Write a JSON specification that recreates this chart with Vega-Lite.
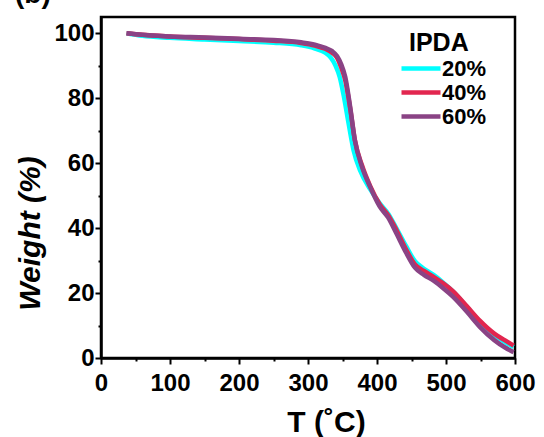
{
  "$schema": "https://vega.github.io/schema/vega-lite/v6.json",
  "autosize": {"type": "none"},
  "padding": {"left": 101, "top": 17, "right": 29, "bottom": 79},
  "width": 414,
  "height": 341,
  "title": {"text": "(b)", "anchor": "start", "frame": "group", "orient": "top", "dx": -86, "dy": 14, "offset": 0, "baseline": "alphabetic", "fontSize": 28, "fontWeight": "bold", "font": "Liberation Sans", "color": "black"},
  "config": {
    "view": {"stroke": "black", "strokeWidth": 2.5},
    "font": "Liberation Sans",
    "axis": {"grid": false, "domainColor": "black", "domainWidth": 2.5, "tickColor": "black", "tickWidth": 2, "labelColor": "black", "labelFont": "Liberation Sans", "labelFontWeight": "bold", "labelFontSize": 24, "titleFont": "Liberation Sans", "titleFontWeight": "bold", "titleFontSize": 30, "titleColor": "black"}
  },
  "data": {"values": [
    {"T": 37, "W": 100, "s": "20%"}, {"T": 60, "W": 99.2, "s": "20%"}, {"T": 100, "W": 98.6, "s": "20%"}, {"T": 150, "W": 98.1, "s": "20%"}, {"T": 200, "W": 97.6, "s": "20%"}, {"T": 250, "W": 97.1, "s": "20%"}, {"T": 290, "W": 96.3, "s": "20%"}, {"T": 310, "W": 95.3, "s": "20%"}, {"T": 325, "W": 94.0, "s": "20%"}, {"T": 333, "W": 92.5, "s": "20%"}, {"T": 340, "W": 90.0, "s": "20%"}, {"T": 346, "W": 86.5, "s": "20%"}, {"T": 352, "W": 80.5, "s": "20%"}, {"T": 359, "W": 72, "s": "20%"}, {"T": 366, "W": 64, "s": "20%"}, {"T": 376, "W": 57.5, "s": "20%"}, {"T": 390, "W": 52, "s": "20%"}, {"T": 404, "W": 47.6, "s": "20%"}, {"T": 416, "W": 44.5, "s": "20%"}, {"T": 428, "W": 40.0, "s": "20%"}, {"T": 442, "W": 34.5, "s": "20%"}, {"T": 455, "W": 29.8, "s": "20%"}, {"T": 468, "W": 27.5, "s": "20%"}, {"T": 482, "W": 25.6, "s": "20%"}, {"T": 496, "W": 23.2, "s": "20%"}, {"T": 510, "W": 20.5, "s": "20%"}, {"T": 530, "W": 15.8, "s": "20%"}, {"T": 549, "W": 11.2, "s": "20%"}, {"T": 570, "W": 7.2, "s": "20%"}, {"T": 585, "W": 5.0, "s": "20%"}, {"T": 598, "W": 3.4, "s": "20%"},
    {"T": 37, "W": 100, "s": "40%"}, {"T": 60, "W": 99.5, "s": "40%"}, {"T": 100, "W": 99.0, "s": "40%"}, {"T": 150, "W": 98.6, "s": "40%"}, {"T": 200, "W": 98.2, "s": "40%"}, {"T": 250, "W": 97.7, "s": "40%"}, {"T": 290, "W": 97.0, "s": "40%"}, {"T": 310, "W": 96.2, "s": "40%"}, {"T": 325, "W": 95.2, "s": "40%"}, {"T": 335, "W": 94.0, "s": "40%"}, {"T": 342, "W": 92.5, "s": "40%"}, {"T": 348, "W": 89.5, "s": "40%"}, {"T": 354, "W": 85.5, "s": "40%"}, {"T": 361, "W": 77, "s": "40%"}, {"T": 368, "W": 67, "s": "40%"}, {"T": 378, "W": 59.5, "s": "40%"}, {"T": 390, "W": 53, "s": "40%"}, {"T": 404, "W": 47.3, "s": "40%"}, {"T": 416, "W": 44, "s": "40%"}, {"T": 428, "W": 39.5, "s": "40%"}, {"T": 442, "W": 33.5, "s": "40%"}, {"T": 455, "W": 28.8, "s": "40%"}, {"T": 468, "W": 26.8, "s": "40%"}, {"T": 482, "W": 25.0, "s": "40%"}, {"T": 496, "W": 23.0, "s": "40%"}, {"T": 510, "W": 20.6, "s": "40%"}, {"T": 530, "W": 16, "s": "40%"}, {"T": 549, "W": 11.5, "s": "40%"}, {"T": 570, "W": 7.5, "s": "40%"}, {"T": 585, "W": 5.5, "s": "40%"}, {"T": 598, "W": 3.8, "s": "40%"},
    {"T": 37, "W": 100, "s": "60%"}, {"T": 60, "W": 99.5, "s": "60%"}, {"T": 100, "W": 99.0, "s": "60%"}, {"T": 150, "W": 98.7, "s": "60%"}, {"T": 200, "W": 98.3, "s": "60%"}, {"T": 250, "W": 97.9, "s": "60%"}, {"T": 290, "W": 97.2, "s": "60%"}, {"T": 310, "W": 96.5, "s": "60%"}, {"T": 325, "W": 95.5, "s": "60%"}, {"T": 335, "W": 94.5, "s": "60%"}, {"T": 342, "W": 93.0, "s": "60%"}, {"T": 348, "W": 90.5, "s": "60%"}, {"T": 354, "W": 86.5, "s": "60%"}, {"T": 361, "W": 77.5, "s": "60%"}, {"T": 368, "W": 67, "s": "60%"}, {"T": 378, "W": 59, "s": "60%"}, {"T": 390, "W": 52.7, "s": "60%"}, {"T": 404, "W": 46.6, "s": "60%"}, {"T": 416, "W": 43.3, "s": "60%"}, {"T": 428, "W": 38.4, "s": "60%"}, {"T": 442, "W": 32.5, "s": "60%"}, {"T": 455, "W": 27.8, "s": "60%"}, {"T": 468, "W": 25.6, "s": "60%"}, {"T": 482, "W": 23.8, "s": "60%"}, {"T": 496, "W": 21.5, "s": "60%"}, {"T": 510, "W": 18.9, "s": "60%"}, {"T": 530, "W": 14.3, "s": "60%"}, {"T": 549, "W": 9.6, "s": "60%"}, {"T": 570, "W": 5.5, "s": "60%"}, {"T": 585, "W": 3.3, "s": "60%"}, {"T": 598, "W": 1.8, "s": "60%"}
  ]},
  "mark": {"type": "line", "interpolate": "monotone", "strokeWidth": 4.5, "clip": true},
  "encoding": {
    "x": {"field": "T", "type": "quantitative", "scale": {"domain": [0, 600], "nice": false},
      "axis": {"values": [0, 50, 100, 150, 200, 250, 300, 350, 400, 450, 500, 550, 600], "labelExpr": "datum.value % 100 == 0 ? datum.label : ''", "tickSize": {"condition": {"test": "datum.value % 100 != 0", "value": 3}, "value": 6}, "labelPadding": 7, "labelFlush": false, "labelOverlap": false, "title": "T (˚C)", "titleX": 225, "titleY": 73, "titleBaseline": "alphabetic", "titleAnchor": "middle"}},
    "y": {"field": "W", "type": "quantitative", "scale": {"domain": [0, 105], "nice": false},
      "axis": {"values": [0, 10, 20, 30, 40, 50, 60, 70, 80, 90, 100], "labelExpr": "datum.value % 20 == 0 ? datum.label : ''", "tickSize": {"condition": {"test": "datum.value % 20 != 0", "value": 3}, "value": 6}, "labelPadding": 1, "labelFlush": false, "labelOverlap": false, "title": "Weight (%)", "titleFontStyle": "italic", "titleX": -71, "titleY": 216, "titleAngle": 270, "titleAlign": "center", "titleBaseline": "middle"}},
    "color": {"field": "s", "type": "nominal", "scale": {"domain": ["20%", "40%", "60%"], "range": ["#00FFFF", "#E2264F", "#8A4385"]},
      "legend": {"title": "IPDA", "orient": "none", "legendX": 308, "legendY": 14, "titleFontSize": 25, "titleFontWeight": "bold", "titleColor": "black", "titleFont": "Liberation Sans", "titlePadding": 0, "titleAnchor": "start", "labelFontSize": 22, "labelFontWeight": "bold", "labelColor": "black", "labelFont": "Liberation Sans", "labelOffset": 8, "symbolType": "M-2,0H1.9", "symbolSize": 400, "symbolStrokeWidth": 4.5, "rowPadding": 0, "padding": 0}}
  }
}
